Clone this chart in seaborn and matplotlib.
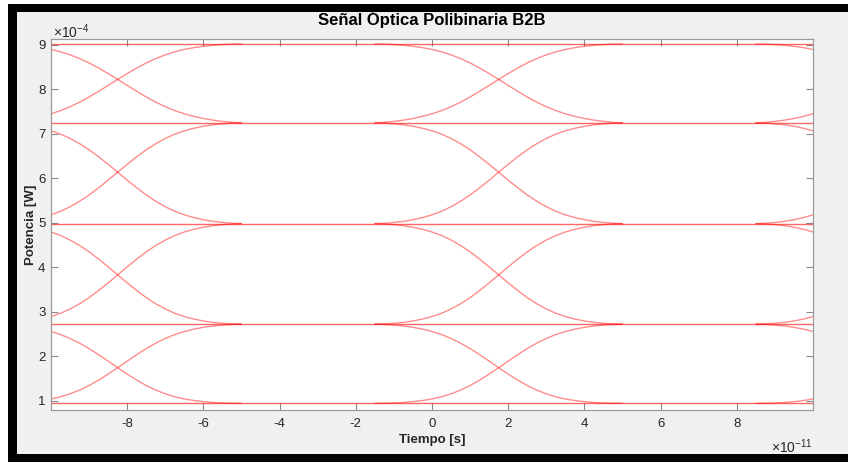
import numpy as np
import pandas as pd
import matplotlib
matplotlib.use("Agg")
import matplotlib.pyplot as plt
import seaborn as sns
from matplotlib.patches import Rectangle
from matplotlib.ticker import FuncFormatter, FixedLocator

# ---------------- data ----------------
title = "Señal Óptica Polibinaria B2B"
xlabel = "Tiempo [s]"
ylabel = "Potencia [W]"

# optical power levels of the polybinary signal [W]
levels_W = [0.94e-4, 2.72e-4, 4.98e-4, 7.245e-4, 9.02e-4]
# fraction of the step reached at the eye crossing, for each adjacent pair (bottom -> top)
crossing_frac = [0.45, 0.49, 0.51, 0.55]
# centres of the symbol transitions [s]
crossing_t = [-8.25e-11, 1.75e-11, 11.75e-11]
# normalised rising edge: time offset (x1e-11 s) and fraction of step
edge_dt = [-3.25, -3.0, -2.75, -2.5, -2.25, -2.0, -1.75, -1.5, -1.25, -1.0, -0.75,
           -0.5, -0.25, 0.0, 0.25, 0.5, 0.75, 1.0, 1.25, 1.5, 1.75, 2.0, 2.25, 2.5,
           2.75, 3.0, 3.25]
edge_frac = [0.0, 0.003, 0.010, 0.020, 0.035, 0.055, 0.081, 0.115, 0.159, 0.212, 0.274,
             0.345, 0.421, 0.5, 0.579, 0.655, 0.726, 0.788, 0.841, 0.885, 0.919, 0.945,
             0.965, 0.980, 0.990, 0.997, 1.0]

x_ticks = [-8e-11, -6e-11, -4e-11, -2e-11, 0.0, 2e-11, 4e-11, 6e-11, 8e-11]
y_ticks = [1e-4, 2e-4, 3e-4, 4e-4, 5e-4, 6e-4, 7e-4, 8e-4, 9e-4]
x_lim = (-10e-11, 10e-11)
y_lim = (0.79e-4, 9.13e-4)
x_exp, y_exp = -11, -4

# ---------------- build traces ----------------
rows = []
trace = 0
for lv in levels_W:
    for t in x_lim:
        rows.append(dict(t=t, p=lv, trace=trace, kind="flat"))
    trace += 1

dt = np.array(edge_dt) * 1e-11
fr = np.array(edge_frac)
for tc in crossing_t:
    for i, c in enumerate(crossing_frac):
        lo, hi = levels_W[i], levels_W[i + 1]
        g = np.log(c) / np.log(0.5)
        for prof in (fr, fr[::-1]):
            for d, f in zip(dt, prof):
                rows.append(dict(t=tc + d, p=lo + (hi - lo) * f ** g, trace=trace, kind="edge"))
            trace += 1
df = pd.DataFrame(rows)

# ---------------- figure ----------------
sns.set_style("ticks")
plt.rcParams["font.family"] = ["Liberation Sans", "DejaVu Sans"]
plt.rcParams["axes.unicode_minus"] = False
plt.rcParams["mathtext.fontset"] = "custom"
plt.rcParams["mathtext.rm"] = "Liberation Sans"
plt.rcParams["mathtext.it"] = "Liberation Sans"

fig = plt.figure(figsize=(8.48, 4.62), dpi=100)
fig.patch.set_facecolor("white")
W, H = 848, 462
fig.add_artist(Rectangle((8 / W, 0), 840 / W, 458 / H, transform=fig.transFigure,
                         facecolor="black", edgecolor="none", zorder=-20))
fig.add_artist(Rectangle((17 / W, 8 / H), 831 / W, 442 / H, transform=fig.transFigure,
                         facecolor="#f0f0f0", edgecolor="none", zorder=-19))

ax = fig.add_axes([51 / W, (H - 410) / H, 762 / W, 371 / H])
ax.set_facecolor("white")

line_col = "#ff0000"
sns.lineplot(data=df[df.kind == "edge"], x="t", y="p", units="trace", estimator=None,
             sort=False, color=line_col, lw=1.0, alpha=0.45, legend=False, ax=ax)
sns.lineplot(data=df[df.kind == "flat"], x="t", y="p", units="trace", estimator=None,
             sort=False, color=line_col, lw=1.0, alpha=0.6, legend=False, ax=ax)

ax.set_xlim(*x_lim)
ax.set_ylim(*y_lim)
ax.xaxis.set_major_locator(FixedLocator(x_ticks))
ax.yaxis.set_major_locator(FixedLocator(y_ticks))
ax.xaxis.set_major_formatter(FuncFormatter(lambda v, _: f"{v / 10.0 ** x_exp:g}"))
ax.yaxis.set_major_formatter(FuncFormatter(lambda v, _: f"{v / 10.0 ** y_exp:g}"))

ax.tick_params(direction="in", top=True, right=True, length=5, width=0.8,
               color="#8c8c8c", labelsize=9.5, labelcolor="#262626")
ax.tick_params(axis="x", pad=6)
ax.tick_params(axis="y", pad=4)

# exponent labels (MATLAB style)
ax.text(0.002, 0.995, r"$\times10^{%d}$" % y_exp, transform=ax.transAxes,
        ha="left", va="bottom", fontsize=10, color="#262626")
ax.text(1.0, -0.073, r"$\times10^{%d}$" % x_exp, transform=ax.transAxes,
        ha="right", va="top", fontsize=10, color="#262626")

for s in ax.spines.values():
    s.set_color("#9a9a9a")
    s.set_linewidth(0.9)

ax.set_title(title, fontsize=12, fontweight="bold", color="#000000", pad=10)
ax.set_xlabel(xlabel, fontsize=9.5, fontweight="bold", color="#262626", labelpad=3)
ax.set_ylabel(ylabel, fontsize=9.5, fontweight="bold", color="#262626", labelpad=1)

fig.savefig("out.png", dpi=100)
